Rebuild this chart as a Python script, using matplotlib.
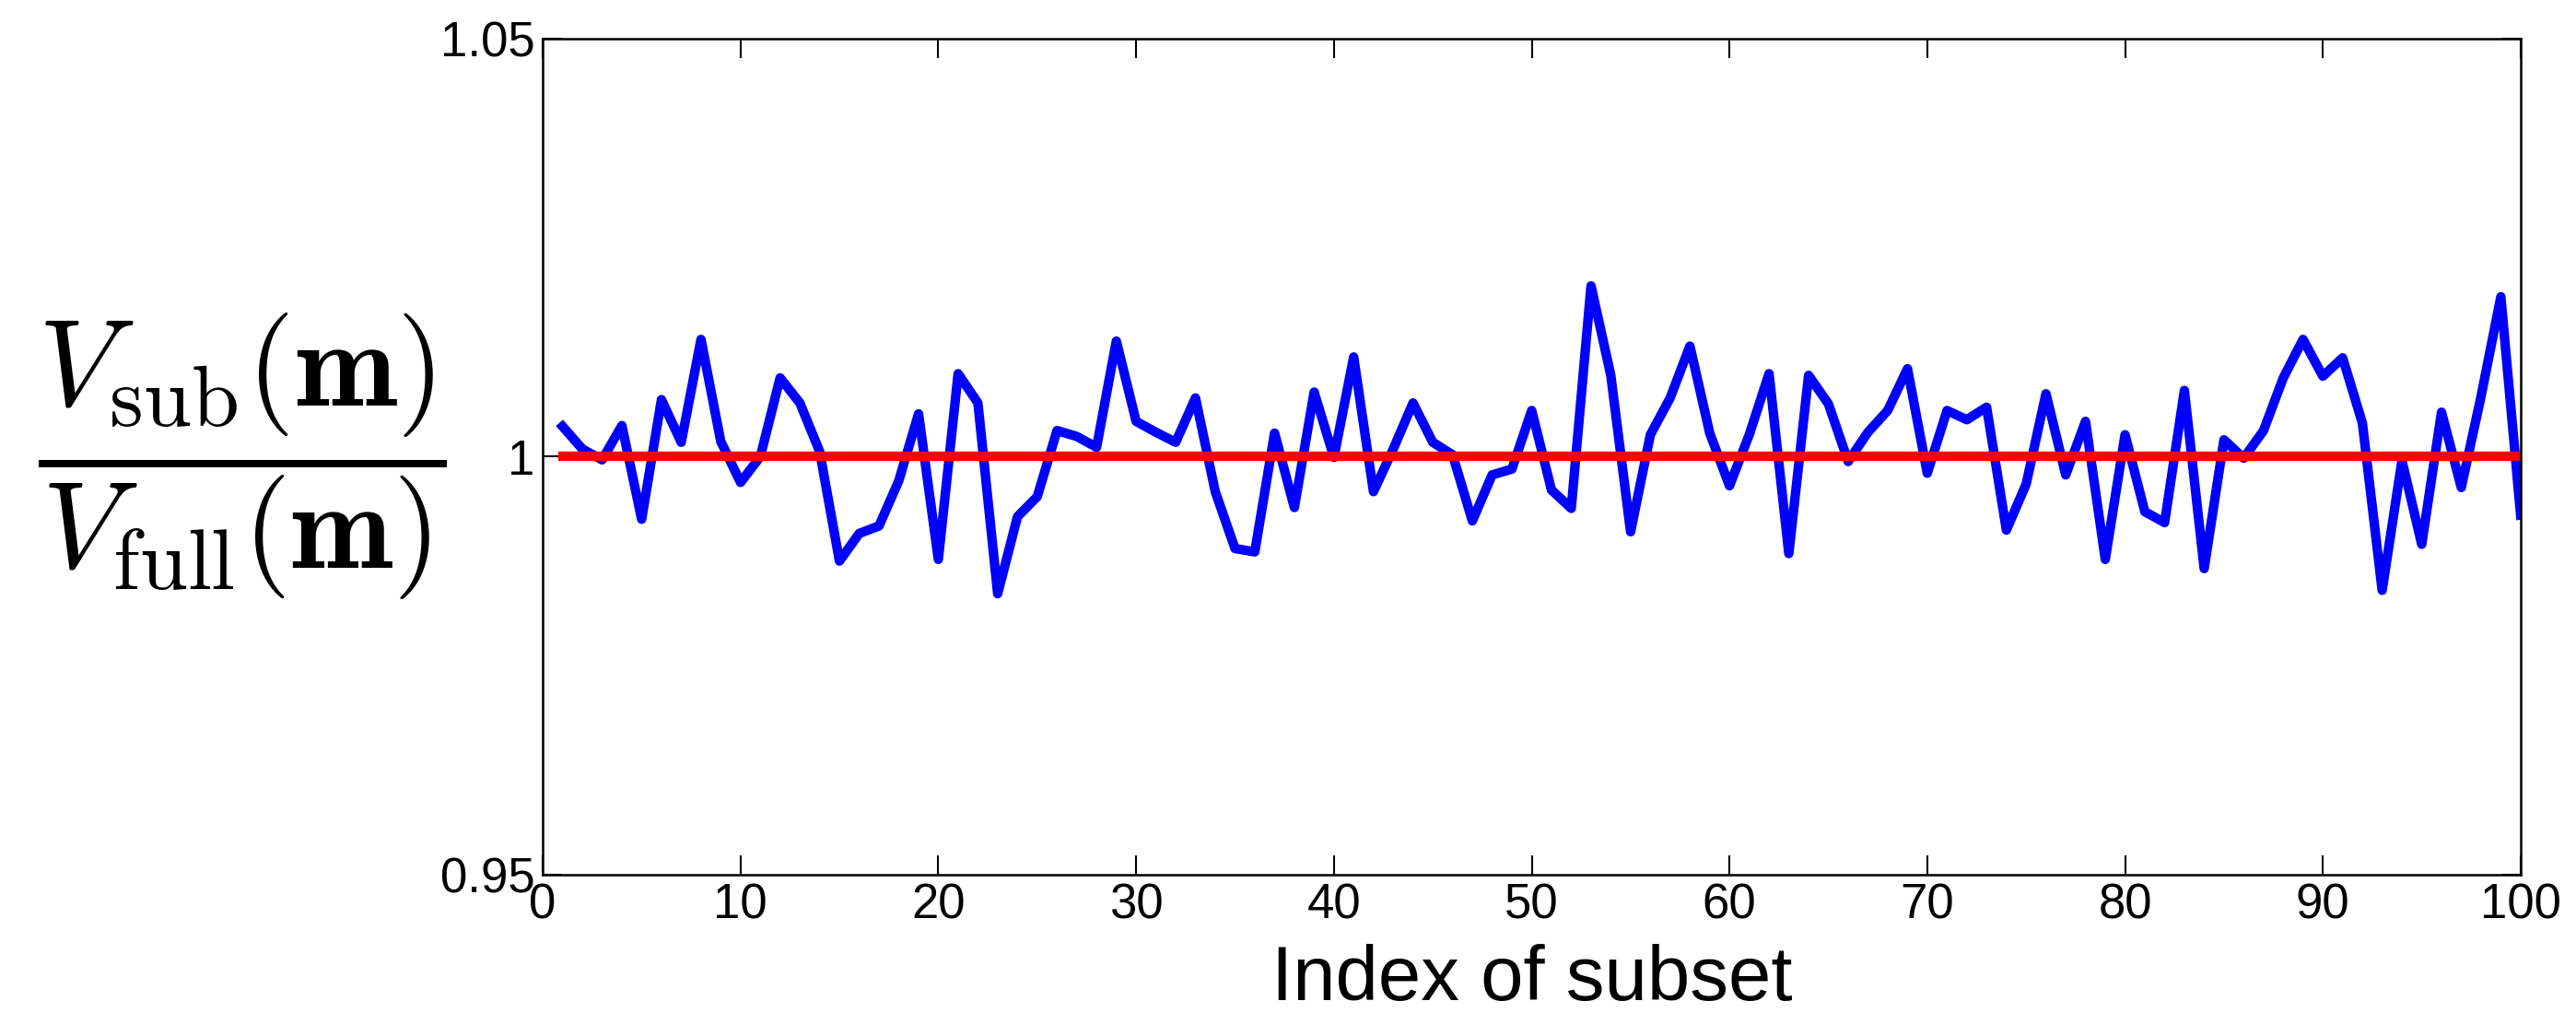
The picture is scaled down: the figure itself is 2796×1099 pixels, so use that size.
import numpy as np
import matplotlib
matplotlib.use("Agg")
import matplotlib.pyplot as plt

# ratio V_sub / V_full for each subset
subset_idx = np.arange(1, 101)
ratio = [
    1.0036, 1.0009, 0.9996, 1.0037, 0.9925, 1.0068, 1.0017, 1.0140, 1.0018, 0.9969,
    1.0000, 1.0094, 1.0064, 1.0006, 0.9875, 0.9908, 0.9917, 0.9971, 1.0051, 0.9877,
    1.0099, 1.0064, 0.9836, 0.9928, 0.9952, 1.0031, 1.0024, 1.0011, 1.0138, 1.0042,
    1.0029, 1.0017, 1.0070, 0.9958, 0.9890, 0.9886, 1.0028, 0.9939, 1.0077, 0.9999,
    1.0119, 0.9958, 1.0009, 1.0064, 1.0017, 1.0002, 0.9923, 0.9978, 0.9985, 1.0055,
    0.9960, 0.9938, 1.0204, 1.0097, 0.9910, 1.0026, 1.0070, 1.0132, 1.0028, 0.9965,
    1.0026, 1.0099, 0.9884, 1.0097, 1.0063, 0.9994, 1.0029, 1.0055, 1.0105, 0.9980,
    1.0055, 1.0044, 1.0059, 0.9912, 0.9967, 1.0075, 0.9978, 1.0042, 0.9877, 1.0026,
    0.9934, 0.9921, 1.0079, 0.9866, 1.0020, 0.9998, 1.0031, 1.0094, 1.0140, 1.0096,
    1.0118, 1.0040, 0.9840, 0.9995, 0.9895, 1.0053, 0.9963, 1.0072, 1.0191, 0.9930,
]
reference = [1.0] * len(subset_idx)

xticks = [0, 10, 20, 30, 40, 50, 60, 70, 80, 90, 100]
yticks = [0.95, 1.0, 1.05]
ytick_labels = ["0.95", "1", "1.05"]

plt.rcParams["font.family"] = ["Liberation Sans", "DejaVu Sans"]
plt.rcParams["mathtext.fontset"] = "cm"

fig = plt.figure(figsize=(27.96, 10.99), dpi=100)
ax = fig.add_axes([0.2107, 0.1365, 0.7678, 0.8257])

ax.plot(subset_idx, ratio, color="#0000ff", lw=7.4, solid_joinstyle="round")
ax.plot(subset_idx, reference, color="#ff0000", lw=7.4)

ax.set_xlim(0, 100)
ax.set_ylim(0.95, 1.05)
ax.set_xticks(xticks)
ax.set_yticks(yticks)
ax.set_yticklabels(ytick_labels)
ax.tick_params(direction="in", length=15, width=1.5, labelsize=38,
               top=True, right=True, pad=6)
for s in ax.spines.values():
    s.set_linewidth(1.8)

ax.set_xlabel("Index of subset", fontsize=60, labelpad=12)
ax.set_ylabel(r"$\dfrac{V_{\rm sub}(\mathbf{m})}{V_{\rm full}(\mathbf{m})}$",
              fontsize=96, rotation=0, ha="center", va="center")
ax.yaxis.set_label_coords(-0.152, 0.5)

fig.savefig("out.png", dpi=100)
